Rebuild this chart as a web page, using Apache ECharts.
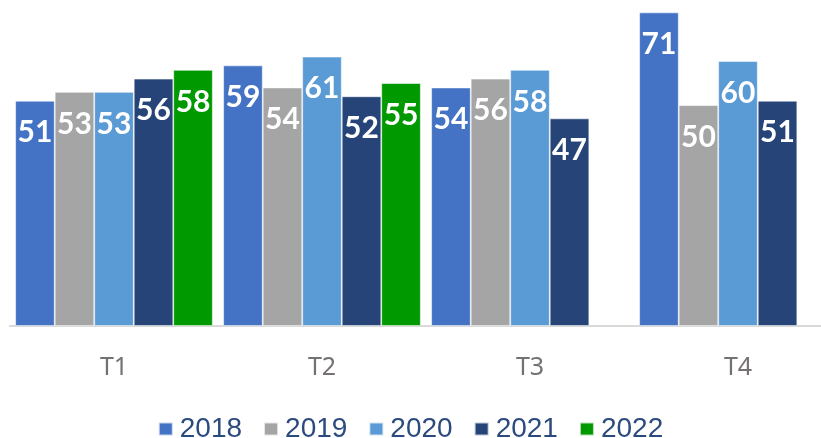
<!DOCTYPE html>
<html>
<head>
<meta charset="utf-8">
<script src="https://cdn.jsdelivr.net/npm/echarts@6/dist/echarts.min.js"></script>
<style>
  html, body { margin: 0; padding: 0; background: #fff; }
  #chart { width: 821px; height: 438px; }
</style>
</head>
<body>
<div id="chart"></div>
<script>
const categories = ['T1', 'T2', 'T3', 'T4'];
const seriesNames = ['2018', '2019', '2020', '2021', '2022'];
const values2018 = [51, 59, 54, 71];
const values2019 = [53, 54, 56, 50];
const values2020 = [53, 61, 58, 60];
const values2021 = [56, 52, 47, 51];
const values2022 = [58, 55, null, null];
const colors = ['#4472C4', '#A5A5A5', '#5B9BD5', '#264478', '#009A00'];

const allValues = [values2018, values2019, values2020, values2021, values2022];

const myChart = echarts.init(document.getElementById('chart'));

const option = {
    animation: false,
    color: colors,
    grid: {
        left: 10,
        width: 832,
        top: 8,
        bottom: 112,
        outerBoundsMode: 'none',
        containLabel: false,
    },
    legend: {
        data: seriesNames,
        top: 410,
        left: 'center',
        itemWidth: 14,
        itemHeight: 13,
        itemGap: 21,
        icon: 'rect',
        textStyle: {
            fontFamily: 'Liberation Sans',
            fontSize: 28,
            color: '#2B4A7E',
            padding: [0, 0, 0, 2],
        },
    },
    xAxis: {
        type: 'category',
        data: categories,
        axisTick: { show: false },
        axisLine: {
            lineStyle: { color: '#D9D9D9', width: 2 },
        },
        axisLabel: {
            margin: 29,
            fontFamily: 'Noto Sans',
            fontSize: 25,
            color: '#757171',
        },
    },
    yAxis: {
        type: 'value',
        min: 0,
        max: 72,
        show: false,
        splitLine: { show: false },
    },
    series: seriesNames.map((name, i) => ({
        name: name,
        type: 'bar',
        data: allValues[i],
        barGap: '0%',
        barCategoryGap: '5%',
        itemStyle: {
            borderColor: 'rgba(255,255,255,0.7)',
            borderWidth: 0.8,
        },
        label: {
            show: true,
            position: 'insideTop',
            distance: 17,
            color: '#fff',
            fontFamily: '"Liberation Sans Narrow", Lato, sans-serif',
            fontWeight: 'bold',
            fontSize: 30,
        },
    })),
};

myChart.setOption(option);
</script>
</body>
</html>
